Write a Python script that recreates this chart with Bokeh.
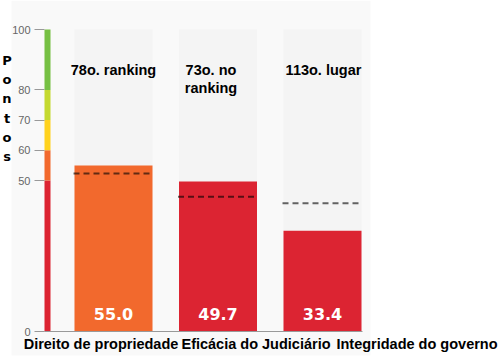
from bokeh.plotting import figure
from bokeh.models import LinearAxis, FixedTicker, Range1d
from bokeh.core.properties import value
from bokeh.embed import file_html
from bokeh.resources import INLINE

# ---------------- data ----------------
categories = ["Direito de propriedade", "Eficácia do Judiciário", "Integridade do governo"]
scores = [55.0, 49.7, 33.4]
benchmarks = [52.3, 44.6, 42.5]
rank_labels = ["78o. ranking", "73o. no\nranking", "113o. lugar"]
band_bottoms = [0, 50, 60, 70, 80]
band_tops = [50, 60, 70, 80, 100]
band_colors = ["#dc2432", "#f2692d", "#ffd21e", "#c4d930", "#76c043"]
y_ticks = [0, 50, 60, 70, 80, 100]
y_axis_title = "Pontos"

# ---------------- layout (pixel geometry) ----------------
W, H = 504, 362
X1_PX, PX_PER_X = 113.0, 104.5     # pixel of x=1, pixels per category step
Y0_PX, PX_PER_Y = 331.0, 3.02      # pixel of y=0, pixels per point
TXT_SHIFT = -5                     # baseline correction for text glyphs


def dx(px):
    return 1 + (px - X1_PX) / PX_PER_X


def dy(py):
    return (Y0_PX - py) / PX_PER_Y


xs = [i + 1 for i in range(len(categories))]
bar_w = 78 / PX_PER_X


def band_color(v):
    for b, t, c in zip(band_bottoms, band_tops, band_colors):
        if b <= v < t:
            return c
    return band_colors[-1]


bar_colors = [band_color(v) for v in scores]

p = figure(width=W, height=H, x_range=Range1d(dx(0), dx(W)), y_range=Range1d(dy(H), dy(0)),
           output_backend="svg", toolbar_location=None, min_border=0,
           x_axis_type=None, y_axis_type=None, outline_line_color=None,
           background_fill_color="white", border_fill_color="white")
p.grid.visible = False

# plot-area background
p.quad(left=[dx(11)], right=[dx(370)], bottom=[dy(355)], top=[dy(0)],
       fill_color="#f9f9f9", line_color=None)
# column backgrounds (0-100)
p.vbar(x=xs, top=[band_tops[-1]] * len(xs), bottom=0, width=bar_w,
       fill_color="#f4f4f4", line_color=None)
# bars
p.vbar(x=xs, top=scores, bottom=0, width=bar_w, fill_color=bar_colors, line_color=None)
# colour scale band
p.quad(left=[dx(44)] * len(band_colors), right=[dx(50)] * len(band_colors),
       bottom=band_bottoms, top=band_tops, fill_color=band_colors, line_color=None)
# benchmark dashed lines
ext = 1 / PX_PER_X
p.segment(x0=[x - bar_w / 2 - ext for x in xs], x1=[x + bar_w / 2 + ext for x in xs],
          y0=benchmarks, y1=benchmarks, line_color="black", line_alpha=0.6,
          line_width=2, line_dash="6 4")

# y axis
yaxis = LinearAxis(fixed_location=dx(44), ticker=FixedTicker(ticks=y_ticks),
                   major_tick_out=10, major_tick_in=0, minor_tick_line_color=None,
                   axis_line_color=None, major_tick_line_color="#999999",
                   major_label_text_color="#666666", major_label_text_font_size="11px",
                   major_label_text_font="Liberation Sans", major_label_standoff=4)
p.add_layout(yaxis, "left")
# x axis line
xaxis = LinearAxis(fixed_location=0, bounds=(dx(44), dx(362)), ticker=FixedTicker(ticks=[]),
                   axis_line_color="#999999", major_tick_line_color=None,
                   minor_tick_line_color=None, major_label_text_font_size="0px")
p.add_layout(xaxis, "below")

# category labels
p.text(x=xs, y=[0] * len(xs), text=categories, x_offset=[-12.5, 38, 94.5],
       y_offset=17 + TXT_SHIFT,
       text_align="center", text_baseline="alphabetic", text_font=value("Liberation Sans"),
       text_font_style="bold", text_font_size="14.5px", text_color="black")

# value labels
p.text(x=xs, y=[0] * len(xs), text=[f"{v:.1f}" for v in scores], y_offset=-13 + TXT_SHIFT,
       text_align="center", text_baseline="alphabetic", text_font=value("DejaVu Sans"),
       text_font_style="bold", text_font_size="16px", text_color="white")

# rank labels (one entry per line)
rank_offsets = [0, -7, 1]
rx, ry, rt, rxo, ryo = [], [], [], [], []
for x, lab, xo in zip(xs, rank_labels, rank_offsets):
    for j, line in enumerate(lab.split("\n")):
        rx.append(x)
        ry.append(band_tops[-1])
        rt.append(line)
        rxo.append(xo)
        ryo.append(45 + j * 18 + TXT_SHIFT)
p.text(x=rx, y=ry, text=rt, x_offset=rxo, y_offset=ryo, text_align="center",
       text_baseline="alphabetic", text_font=value("Liberation Sans"),
       text_font_style="bold", text_font_size="14.5px", text_color="black")

# vertical axis title, letter by letter
letters = list(y_axis_title)
p.text(x=[dx(6.5)] * len(letters), y=[band_tops[-1]] * len(letters), text=letters,
       y_offset=[36 + k * 19.2 + TXT_SHIFT for k in range(len(letters))], text_align="center",
       text_baseline="alphabetic", text_font=value("DejaVu Sans"), text_font_style="bold",
       text_font_size="13px", text_color="black")

open("out.html", "w").write(file_html(p, INLINE))
